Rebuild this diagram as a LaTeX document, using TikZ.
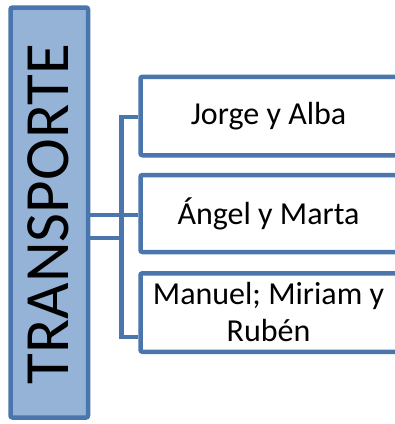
\documentclass[tikz,border=0pt]{standalone}
\usepackage{fontspec}
\setmainfont{Carlito}
\definecolor{edge}{RGB}{74,118,173}
\definecolor{fillb}{RGB}{149,179,215}
\begin{document}
\begin{tikzpicture}[x=1pt,y=-1pt,
  mainbox/.style={draw=edge,fill=fillb,line width=4.5pt,rounded corners=2pt,inner sep=0pt},
  itembox/.style={draw=edge,fill=white,line width=4.5pt,rounded corners=2pt,inner sep=0pt,
     minimum width=258pt,minimum height=78.5pt},
  itemtext/.style={align=center,font=\fontsize{32}{37}\selectfont,inner sep=0pt},
  link/.style={draw=edge,line width=4.5pt}]
\useasboundingbox (0,0) rectangle (395,424);
\node[mainbox,minimum width=77.5pt,minimum height=410pt] (main) at (49.25,212.5) {};
\node[rotate=90,font=\fontsize{63}{63}\selectfont] (title) at (48,214) {TRANSPORTE};
\node[itembox] (b1) at (269.5,116) {};
\node[itembox,minimum height=77pt] (b2) at (269.5,213.5) {};
\node[itembox] (b3) at (269.5,312.5) {};
\node[itemtext] (t1txt) at (268.5,116) {Jorge y Alba};
\node[itemtext] (t2txt) at (268.5,214) {Ángel y Marta};
\node[itemtext] (t3txt) at (268.5,312) {Manuel; Miriam y\\Rubén};
\coordinate (t1) at (121.5,117);
\coordinate (t3) at (121.5,337);
\coordinate (m2) at (121.5,238);
\draw[link] (b1.west |- t1) -- (t1) -- (t3) -- (b3.west |- t3);
\draw[link] (main.east |- 0,215) -- (b2.west |- 0,215);
\draw[link] (main.east |- m2) -- (m2);
\end{tikzpicture}
\end{document}
